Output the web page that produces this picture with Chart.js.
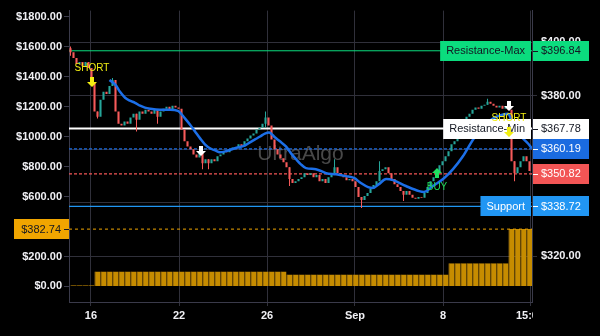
<!DOCTYPE html>
<html>
<head>
<meta charset="utf-8">
<title>UltraAlgo</title>
<script src="https://cdn.jsdelivr.net/npm/chart.js@4.4.1/dist/chart.umd.min.js"></script>
<style>
  html, body { margin: 0; padding: 0; background: #000; }
  #wrap { width: 600px; height: 336px; }
</style>
</head>
<body>
<div id="wrap"><canvas id="chart" width="600" height="336"></canvas></div>
<script>
/* ── data ── */
const firstOpen = 397.8;
const closes = [
  396.3, 394.1, 391.9, 392.6, 391.1, 392.6, 390.4, 385.2, 374.1, 372.2,
  378.5, 381.5, 380.7, 383.7, 385.9, 374.1, 369.6, 368.9, 370.4, 369.6,
  371.9, 373.3, 371.1, 374.1, 373.3, 374.8, 374.1, 373.3, 374.8, 372.2,
  374.1, 375.2, 375.9, 374.8, 376.3, 375.6, 375.2, 367.4, 363.0, 361.1,
  360.0, 358.1, 357.0, 358.5, 354.8, 356.3, 354.8, 356.3, 355.6, 357.4,
  358.1, 359.3, 358.9, 360.0, 360.7, 360.4, 361.9, 361.1, 363.0, 364.1,
  365.2, 365.9, 367.4, 368.1, 369.6, 371.9, 368.9, 363.7, 360.0, 358.1,
  356.7, 355.2, 353.3, 348.9, 347.4, 348.1, 348.9, 349.6, 351.1, 350.4,
  351.1, 349.6, 350.4, 348.1, 348.9, 347.4, 349.6, 351.1, 353.3, 351.1,
  350.0, 349.6, 348.5, 348.9, 348.1, 345.9, 342.2, 341.1, 342.6, 343.7,
  345.2, 346.7, 348.1, 351.9, 352.6, 353.3, 351.1, 348.9, 347.0, 345.9,
  344.4, 343.0, 344.4, 343.0, 341.9, 341.5, 342.2, 341.9, 343.7, 345.9,
  348.1, 349.6, 351.1, 354.1, 355.6, 357.4, 359.3, 361.9, 363.0, 364.8,
  364.4, 367.4, 372.2, 373.3, 374.8, 375.6, 375.2, 376.3, 376.7, 377.8,
  377.0, 376.3, 375.6, 376.3, 375.2, 375.9, 374.8, 355.6, 351.1, 353.3,
  355.6, 357.4, 355.6, 351.9
];
// visible wick spikes
const wickIdx  = [0, 9, 14, 22, 29, 44, 46, 65, 73, 88, 97, 103, 111, 139, 148];
const wickLow  = [395.0, 371.5, 383.7, 366.7, 369.6, 352.6, 352.6, 368.2, 346.3, 351.1, 338.1, 348.2, 340.7, 376.7, 348.1];
const wickHigh = [398.4, 374.1, 386.7, 373.3, 374.8, 358.5, 356.3, 374.1, 353.3, 356.3, 342.2, 355.6, 344.4, 378.9, 355.6];

// moving average
const maIdx  = [13, 15, 16.5, 18.2, 19.8, 21.5, 23.2, 24.8, 26.5, 29.8, 33.2, 35.8, 38.2, 39.8, 41.5, 43.2, 44.8, 46.5,
  48.2, 49.8, 51.8, 54.8, 58.2, 59.8, 61.5, 63.2, 64.8, 66.2, 68.2, 69.8, 71.8, 73.5, 75.2, 76.8, 78.5, 81.8, 85.2,
  88.5, 91.8, 94.5, 96.8, 99.2, 100.8, 102.8, 105.2, 107.5, 111.8, 116.2, 117.8, 120.8, 124.2, 127.5, 130.8, 134.2,
  137.5, 140.8, 144.2, 145.8, 147.8, 150.2, 152.5, 153.8];
const maVals = [385.9, 384.1, 381.5, 379.3, 378.2, 377.4, 376.3, 375.6, 375.2, 374.8, 374.8, 374.4, 371.5, 369.3, 366.7,
  364.1, 361.9, 360.4, 359.6, 358.9, 359.3, 360.4, 361.5, 362.6, 363.7, 364.8, 365.9, 366.3, 364.4, 363.0, 361.1,
  358.5, 356.3, 354.4, 353.0, 352.6, 351.1, 350.7, 350.0, 349.3, 347.4, 345.9, 345.6, 347.0, 348.9, 348.5, 346.3,
  344.4, 344.1, 346.3, 348.9, 352.6, 357.4, 363.7, 368.5, 371.5, 373.0, 373.3, 368.5, 364.8, 362.2, 360.4];

// cumulative bars on the left scale (one per two candles)
const volVals = [
  8, 8, 8, 8,
  99, 99, 99, 99, 99, 99, 99, 99, 99, 99, 99, 99, 99, 99, 99, 99,
  99, 99, 99, 99, 99, 99, 99, 99, 99, 99, 99, 99, 99, 99, 99, 99,
  79, 79, 79, 79, 79, 79, 79, 79, 79, 79, 79, 79, 79, 79, 79, 79, 79, 79, 79, 79, 79, 79, 79, 79, 79, 79, 79,
  154, 154, 154, 154, 154, 154, 154, 154, 154, 154,
  382.74, 382.74, 382.74, 382.74
];
const volMark = 382.74;

const xTickPos    = [6.83, 36.17, 65.5, 94.83, 124.17, 153.17];
const xTickLabels = ['16', '22', '26', 'Sep', '8', '15:00'];
const priceTicks  = [320, 340, 360, 380, 400];
const volTicks    = [0, 200, 600, 800, 1000, 1200, 1400, 1600, 1800];

const levelVals  = [396.84, 367.78, 360.19, 350.82, 338.72];
const levelNames = ['Resistance-Max', 'Resistance-Min', '', '', 'Support'];

const sigIdx   = [7.2, 43.5, 122.3, 146.2, 146.2];
const sigPrice = [387.0, 361.1, 353.0, 378.2, 368.5];
const sigKind  = ['short', 'exit', 'buy', 'exit', 'short'];

/* ── styles ── */
const FONT = '"Liberation Sans", Arial, sans-serif';
const UP = '#26a69a', DOWN = '#f65a5a';
const levelBg   = ['#0bdc7e', '#ffffff', '#1a6be0', '#f25555', '#2196f3'];
const levelFg   = ['#131722', '#131722', '#ffffff', '#ffffff', '#ffffff'];
const levelDash = [[], [], [3, 2], [3, 2], []];
const levelW    = [1, 2, 1.2, 1.2, 1.2];
const GRID = '#30303a', AXIS = '#3a3a4a';
const TICK_FONT = {family: FONT, size: 11, weight: 'bold'};

Chart.defaults.font.family = FONT;
Chart.defaults.font.size = 11;
Chart.defaults.color = '#e0e3eb';

const opens = closes.map((c, i) => i === 0 ? firstOpen : closes[i - 1]);
const candleData = closes.map((c, i) => ({x: i, y: [opens[i], c]}));
const candleCol = closes.map((c, i) => c >= opens[i] ? UP : DOWN);
const wickData = wickIdx.map((i, k) => ({x: i, y: [wickLow[k], wickHigh[k]]}));
const wickCol = wickIdx.map(i => candleCol[i]);
const xMin = -0.5, xMax = 153.83;

const levelSets = levelVals.map((v, k) => ({
  type: 'line',
  data: [{x: xMin, y: v}, {x: xMax, y: v}],
  yAxisID: 'y',
  borderColor: levelBg[k],
  borderWidth: levelW[k],
  borderDash: levelDash[k],
  pointRadius: 0,
  order: 6
}));

/* ── overlay: watermark, price tags, signals ── */
function tagBox(ctx, x, y, w, bg) {
  ctx.fillStyle = bg;
  ctx.fillRect(x, Math.round(y) - 10, w, 20);
}
function arrow(ctx, x, y, down, color) {
  ctx.fillStyle = color;
  ctx.beginPath();
  if (down) {
    ctx.rect(x - 2, y, 4, 5);
    ctx.moveTo(x - 5, y + 5); ctx.lineTo(x + 5, y + 5); ctx.lineTo(x, y + 10);
  } else {
    ctx.moveTo(x, y); ctx.lineTo(x + 5, y + 5); ctx.lineTo(x - 5, y + 5);
    ctx.rect(x - 2, y + 5, 4, 5);
  }
  ctx.fill();
}

const overlay = {
  id: 'overlay',
  beforeDatasetsDraw(chart) {
    const {ctx, chartArea: a} = chart;
    ctx.save();
    ctx.font = '21px ' + FONT;
    ctx.fillStyle = 'rgba(120,120,120,0.6)';
    ctx.textAlign = 'center';
    ctx.textBaseline = 'middle';
    ctx.fillText('UltraAlgo', (a.left + a.right) / 2, 154);
    ctx.restore();
  },
  afterDatasetsDraw(chart) {
    const {ctx, chartArea: a, scales} = chart;
    ctx.save();
    ctx.font = '11px ' + FONT;
    ctx.textBaseline = 'middle';

    // right-side level tags
    levelVals.forEach((v, k) => {
      const y = scales.y.getPixelForValue(v);
      tagBox(ctx, a.right + 1, y, 56, levelBg[k]);
      ctx.fillStyle = levelFg[k];
      ctx.fillRect(a.right + 1, Math.round(y), 5, 1);
      ctx.textAlign = 'left';
      ctx.fillText('$' + v.toFixed(2), a.right + 9, y + 0.5);
      if (levelNames[k]) {
        const w = ctx.measureText(levelNames[k]).width + 12;
        tagBox(ctx, a.right - 1 - w, y, w, levelBg[k]);
        ctx.fillStyle = levelFg[k];
        ctx.textAlign = 'center';
        ctx.fillText(levelNames[k], a.right - 1 - w / 2, y + 0.5);
      }
    });

    // left volume tag
    const vy = scales.yv.getPixelForValue(volMark);
    tagBox(ctx, a.left - 55, vy, 55, '#f0a500');
    ctx.fillStyle = '#131722';
    ctx.fillRect(a.left - 5, Math.round(vy), 5, 1);
    ctx.textAlign = 'right';
    ctx.fillText('$' + volMark.toFixed(2), a.left - 8, vy + 0.5);

    // signals
    ctx.font = '10px ' + FONT;
    ctx.textAlign = 'center';
    sigIdx.forEach((i, k) => {
      const x = Math.round(scales.x.getPixelForValue(i));
      const y = Math.round(scales.y.getPixelForValue(sigPrice[k]));
      if (sigKind[k] === 'short') {
        arrow(ctx, x, y, true, '#f2ee12');
        ctx.fillStyle = '#f2ee12';
        ctx.fillText('SHORT', x, y - 9);
      } else if (sigKind[k] === 'buy') {
        arrow(ctx, x, y, false, '#1fe060');
        ctx.fillStyle = '#1fd85a';
        ctx.fillText('BUY', x, y + 19);
      } else {
        arrow(ctx, x, y, true, '#ffffff');
      }
    });
    ctx.restore();
  },
  afterDraw(chart) {
    // price scale panel hides the overflowing time label
    const {ctx, chartArea: a} = chart;
    ctx.save();
    ctx.fillStyle = '#000';
    ctx.fillRect(a.right + 1, a.bottom + 1, 100, 60);
    ctx.restore();
  }
};

new Chart(document.getElementById('chart'), {
  data: {
    datasets: [
      {
        type: 'line',
        data: maIdx.map((x, k) => ({x, y: maVals[k]})),
        yAxisID: 'y',
        borderColor: '#1c6fe8',
        borderWidth: 2.5,
        pointRadius: 0,
        cubicInterpolationMode: 'monotone',
        order: 1
      },
      {
        type: 'bar',
        data: candleData,
        yAxisID: 'y',
        backgroundColor: candleCol,
        grouped: false,
        categoryPercentage: 1,
        barPercentage: 0.7,
        order: 2
      },
      {
        type: 'bar',
        data: wickData,
        yAxisID: 'y',
        backgroundColor: wickCol,
        grouped: false,
        categoryPercentage: 1,
        barPercentage: 0.34,
        order: 3
      },
      {
        type: 'bar',
        data: volVals.map((v, k) => ({x: 1 + 2 * k, y: v})),
        yAxisID: 'yv',
        backgroundColor: '#c68c00',
        borderColor: '#f2ad18',
        borderWidth: {left: 1, right: 0, top: 0, bottom: 0},
        borderSkipped: false,
        grouped: false,
        categoryPercentage: 1,
        barPercentage: 2,
        order: 7
      },
      ...levelSets,
      {
        type: 'line',
        data: [{x: xMin, y: volMark}, {x: xMax, y: volMark}],
        yAxisID: 'yv',
        borderColor: '#f0a500',
        borderWidth: 1,
        borderDash: [3, 3],
        pointRadius: 0,
        order: 6
      }
    ]
  },
  options: {
    responsive: false,
    animation: false,
    devicePixelRatio: 1,
    layout: {padding: {top: 8, left: 0, right: 0, bottom: 0}},
    plugins: {legend: {display: false}, tooltip: {enabled: false}},
    scales: {
      x: {
        type: 'linear',
        min: xMin,
        max: xMax,
        offset: false,
        afterBuildTicks: s => { s.ticks = xTickPos.map(v => ({value: v})); },
        afterFit: s => { s.height = 34; },
        ticks: {
          autoSkip: false,
          maxRotation: 0,
          padding: 3,
          color: '#f0f0f4',
          font: TICK_FONT,
          callback: (v, i) => xTickLabels[i]
        },
        grid: {color: GRID, tickLength: 4, offset: false},
        border: {color: AXIS}
      },
      y: {
        type: 'linear',
        position: 'right',
        min: 302.96,
        max: 411.85,
        stacked: false,
        afterBuildTicks: s => { s.ticks = priceTicks.map(v => ({value: v})); },
        afterFit: s => { s.width = 68; },
        ticks: {padding: 4, color: '#f0f0f4', font: TICK_FONT, callback: v => '$' + v.toFixed(2)},
        grid: {color: GRID, tickLength: 5},
        border: {color: AXIS}
      },
      yv: {
        type: 'linear',
        position: 'left',
        min: -104,
        max: 1842,
        stacked: false,
        afterBuildTicks: s => { s.ticks = volTicks.map(v => ({value: v})); },
        afterFit: s => { s.width = 69; },
        ticks: {padding: 2, color: '#f0f0f4', font: TICK_FONT, callback: v => '$' + v.toFixed(2)},
        grid: {drawOnChartArea: false, color: AXIS, tickLength: 5},
        border: {color: AXIS}
      }
    }
  },
  plugins: [overlay]
});
</script>
</body>
</html>
